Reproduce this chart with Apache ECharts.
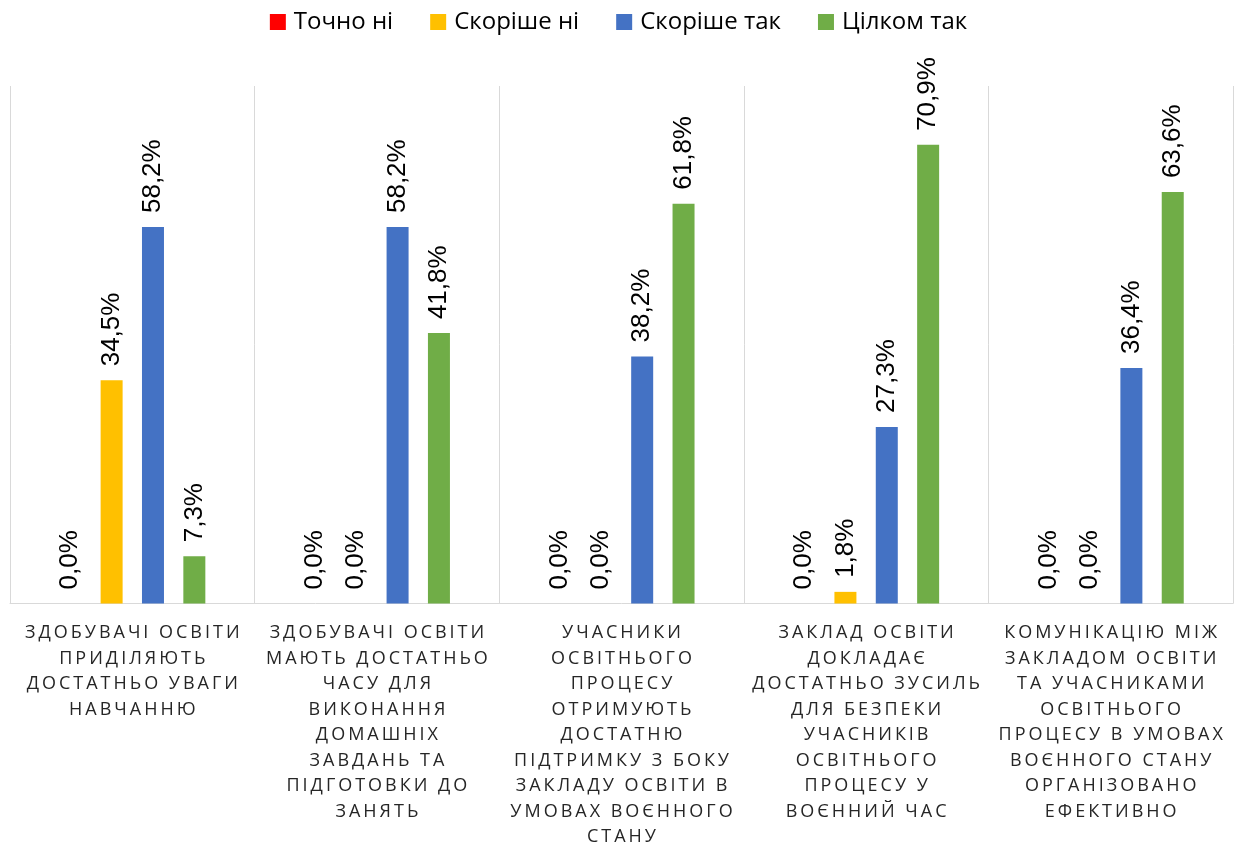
<!DOCTYPE html>
<html>
<head>
<meta charset="utf-8">
<script src="https://cdn.jsdelivr.net/npm/echarts@6/dist/echarts.min.js"></script>
<style>
  html, body { margin: 0; padding: 0; background: #fff; overflow: hidden; }
  #chart { width: 1237px; height: 850px; }
</style>
</head>
<body>
<div id="chart"></div>
<script>
// Survey statements (with the line breaks used under the axis)
const categories = [
  'ЗДОБУВАЧІ ОСВІТИ\nПРИДІЛЯЮТЬ\nДОСТАТНЬО УВАГИ\nНАВЧАННЮ',
  'ЗДОБУВАЧІ ОСВІТИ\nМАЮТЬ ДОСТАТНЬО\nЧАСУ ДЛЯ\nВИКОНАННЯ\nДОМАШНІХ\nЗАВДАНЬ ТА\nПІДГОТОВКИ ДО\nЗАНЯТЬ',
  'УЧАСНИКИ\nОСВІТНЬОГО\nПРОЦЕСУ\nОТРИМУЮТЬ\nДОСТАТНЮ\nПІДТРИМКУ З БОКУ\nЗАКЛАДУ ОСВІТИ В\nУМОВАХ ВОЄННОГО\nСТАНУ',
  'ЗАКЛАД ОСВІТИ\nДОКЛАДАЄ\nДОСТАТНЬО ЗУСИЛЬ\nДЛЯ БЕЗПЕКИ\nУЧАСНИКІВ\nОСВІТНЬОГО\nПРОЦЕСУ У\nВОЄННИЙ ЧАС',
  'КОМУНІКАЦІЮ МІЖ\nЗАКЛАДОМ ОСВІТИ\nТА УЧАСНИКАМИ\nОСВІТНЬОГО\nПРОЦЕСУ В УМОВАХ\nВОЄННОГО СТАНУ\nОРГАНІЗОВАНО\nЕФЕКТИВНО'
];

// Answer shares, %
const definitelyNo = [0.0, 0.0, 0.0, 0.0, 0.0];
const ratherNo     = [34.5, 0.0, 0.0, 1.8, 0.0];
const ratherYes    = [58.2, 58.2, 38.2, 27.3, 36.4];
const fullyYes     = [7.3, 41.8, 61.8, 70.9, 63.6];

const seriesNames = ['Точно ні', 'Скоріше ні', 'Скоріше так', 'Цілком так'];
const seriesData = [definitelyNo, ratherNo, ratherYes, fullyYes];
const seriesColors = ['#FF0000', '#FFC000', '#4472C4', '#70AD47'];

// Tracked-out caps for the axis captions: a thin space between letters
const tracked = s => s.split('\n').map(line => Array.from(line).join('\u2009')).join('\n');

const chart = echarts.init(document.getElementById('chart'), null, { renderer: 'canvas' });

chart.setOption({
  animation: false,
  backgroundColor: '#ffffff',
  legend: {
    top: 5,
    left: 'center',
    itemWidth: 16,
    itemHeight: 16,
    itemGap: 37,
    icon: 'rect',
    textStyle: { fontFamily: '"Open Sans", sans-serif', fontSize: 24, color: '#000000', padding: [0, 0, 0, 3] },
    data: seriesNames
  },
  grid: { left: 10, right: 4, top: 86, bottom: 246, containLabel: false },
  xAxis: {
    type: 'category',
    data: categories,
    axisLine: { show: true, lineStyle: { color: '#D9D9D9', width: 1 } },
    axisTick: { show: false },
    splitLine: { show: true, interval: 0, lineStyle: { color: '#D9D9D9', width: 1 } },
    axisLabel: {
      interval: 0,
      margin: 17,
      fontFamily: '"Open Sans", sans-serif',
      fontSize: 18,
      lineHeight: 25.5,
      color: '#262626',
      align: 'center',
      formatter: v => tracked(v)
    }
  },
  yAxis: {
    type: 'value',
    min: 0,
    max: 80,
    show: false,
    splitLine: { show: false }
  },
  series: seriesData.map((d, i) => ({
    name: seriesNames[i],
    type: 'bar',
    data: d,
    barWidth: 22,
    barGap: '88%',
    itemStyle: { color: seriesColors[i] },
    label: {
      show: true,
      position: 'top',
      rotate: 90,
      align: 'left',
      verticalAlign: 'middle',
      distance: 14,
      fontFamily: '"Liberation Sans", sans-serif',
      fontSize: 26,
      color: '#000000',
      formatter: p => p.value.toFixed(1).replace('.', ',') + '%'
    }
  }))
});
</script>
</body>
</html>
